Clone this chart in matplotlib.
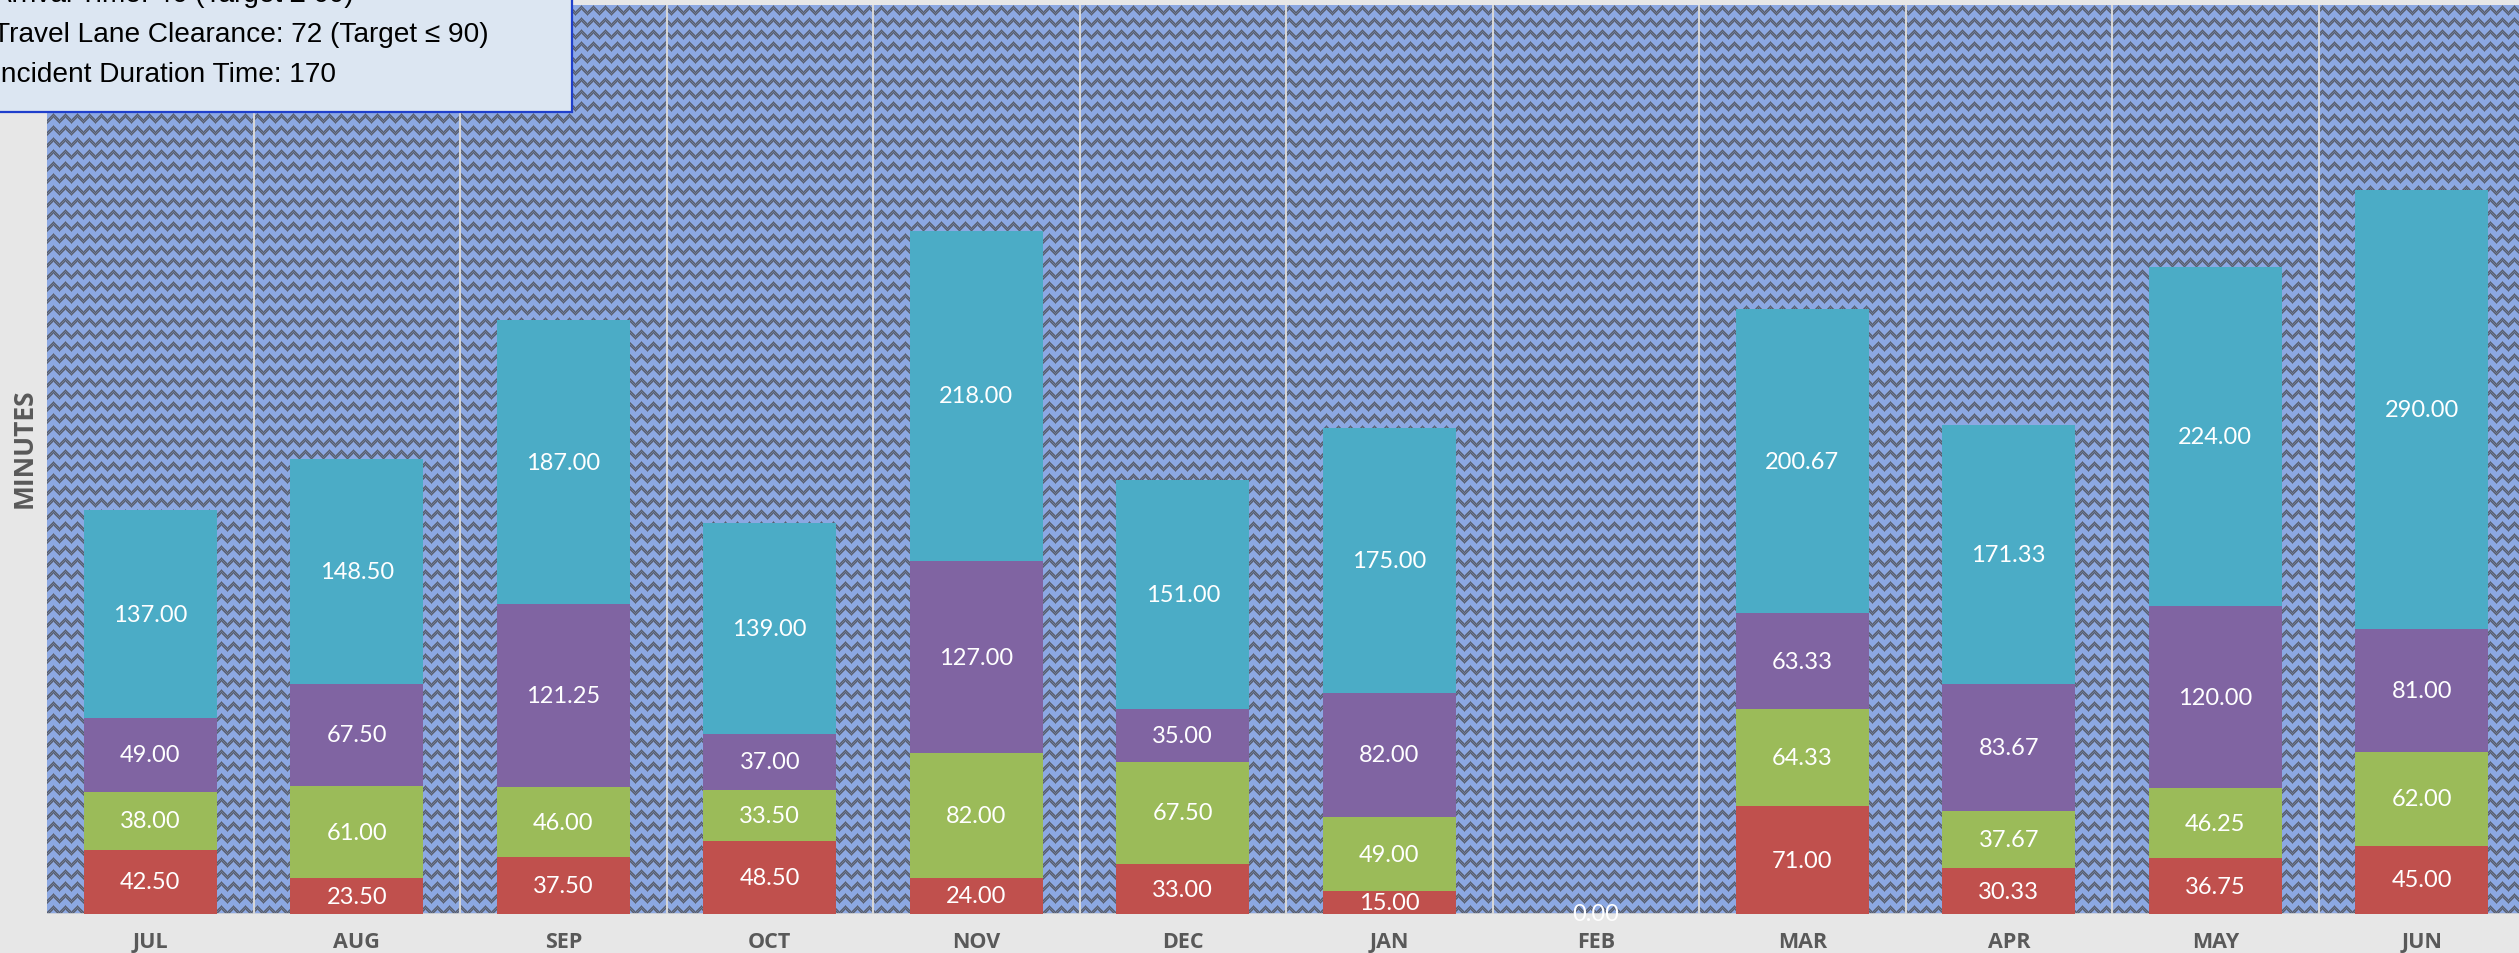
import numpy as np
import matplotlib
matplotlib.use("Agg")
import matplotlib.pyplot as plt
from matplotlib.patches import Rectangle

months = ["JUL", "AUG", "SEP", "OCT", "NOV", "DEC", "JAN", "FEB", "MAR", "APR", "MAY", "JUN"]
red_vals = [42.50, 23.50, 37.50, 48.50, 24.00, 33.00, 15.00, 0.00, 71.00, 30.33, 36.75, 45.00]
green_vals = [38.00, 61.00, 46.00, 33.50, 82.00, 67.50, 49.00, 0.00, 64.33, 37.67, 46.25, 62.00]
purple_vals = [49.00, 67.50, 121.25, 37.00, 127.00, 35.00, 82.00, 0.00, 63.33, 83.67, 120.00, 81.00]
teal_vals = [137.00, 148.50, 187.00, 139.00, 218.00, 151.00, 175.00, 0.00, 200.67, 171.33, 224.00, 290.00]
series = [red_vals, green_vals, purple_vals, teal_vals]
colors = ["#C0504D", "#9BBB59", "#8064A2", "#4BACC6"]
box_lines = ["Arrival Time: 46 (Target \u2264 60)",
             "Travel Lane Clearance: 72 (Target \u2264 90)",
             "Incident Duration Time: 170"]

W, H = 2519, 954
fig = plt.figure(figsize=(W / 100, H / 100), dpi=100)
fig.patch.set_facecolor("#E7E7E7")

ax_l, ax_b, ax_w, ax_h = 47, 39, 2478, 909
ax = fig.add_axes([ax_l / W, ax_b / H, ax_w / W, ax_h / H])

# patterned plot-area background (zig-zag weave texture)
P = 12
yy, xx = np.mgrid[0:ax_h, 0:ax_w]
tri = np.abs((xx % P) - P // 2)
d = (yy - tri) % P
light = np.array([140, 168, 226]) / 255
dark = np.array([86, 94, 112]) / 255
mid = np.array([110, 122, 150]) / 255
img = np.empty((ax_h, ax_w, 3))
img[:] = light
img[(d == 0) | (d == 4)] = mid
img[(d >= 1) & (d <= 3)] = dark
img[((xx + yy) % 2 == 0) & (d >= 1) & (d <= 3)] = mid
ax.imshow(img, extent=(-0.5, 11.5, 0, 600), aspect="auto",
          interpolation="nearest", zorder=0)

x = np.arange(len(months))
ax.vlines(np.arange(len(months) - 1) + 0.5, 0, 600, color="#D6D6D6", lw=1.5, zorder=1)
ax.axhline(0, color="#D9D9D9", lw=1.2, zorder=1)

bottom = np.zeros(len(months))
for si, (vals, c) in enumerate(zip(series, colors)):
    vals = np.array(vals)
    ax.bar(x, vals, width=0.645, bottom=bottom, color=c, zorder=2, linewidth=0)
    for xi, v, b in zip(x, vals, bottom):
        if v > 0 or si == 0:
            ax.text(xi, b + v / 2, f"{v:.2f}", ha="center", va="center",
                    color="white", fontsize=17, family="Lato", zorder=3)
    bottom = bottom + vals

ax.set_xlim(-0.5, 11.5)
ax.set_ylim(0, 600)
ax.set_yticks([])
ax.set_xticks(x, months)
ax.tick_params(axis="x", length=0, pad=12)
for lab in ax.get_xticklabels():
    lab.set_fontfamily("Open Sans")
    lab.set_fontweight("bold")
    lab.set_fontsize(15.5)
    lab.set_color("#595959")
for sp in ax.spines.values():
    sp.set_visible(False)

fig.text(24.5 / W, 1 - 448 / H, "MINUTES", rotation=90, ha="center", va="center",
         fontsize=19, fontweight="bold", color="#595959", family="Open Sans")

# annotation box
rect = Rectangle((-10 / W, 1 - 113 / H), 582 / W, 140 / H, transform=fig.transFigure,
                 facecolor="#DCE6F2", edgecolor="#1F3FCC", lw=1.6, zorder=10)
fig.add_artist(rect)
for i, line in enumerate(box_lines):
    fig.text(-7 / W, 1 - (2 + 40 * i) / H, line, ha="left", va="baseline",
             fontsize=20.2, family="Liberation Sans", color="black", zorder=11)

fig.savefig("out.png", dpi=100, facecolor=fig.get_facecolor())
